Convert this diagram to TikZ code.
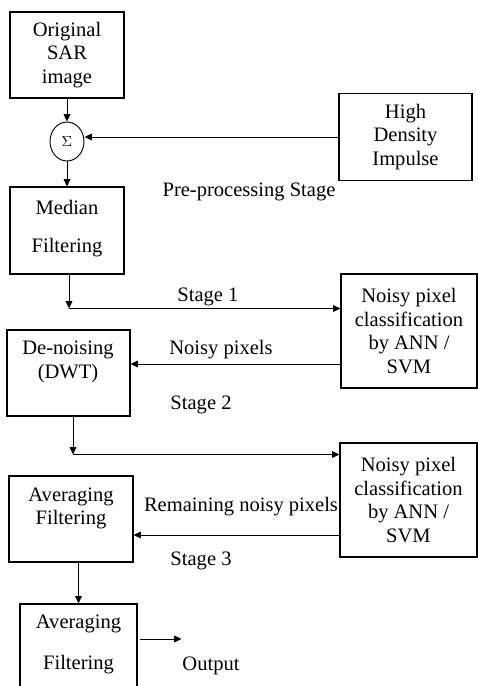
\documentclass[tikz,border=0pt]{standalone}
\usepackage{fontspec}
\setmainfont{Liberation Serif}
\usetikzlibrary{arrows.meta,shapes.geometric,calc}
\begin{document}
\begin{tikzpicture}[x=0.75pt,y=-0.75pt,
  box/.style={draw, line width=0.8pt, inner sep=0pt, align=center,
    font=\fontsize{15.4}{17.6}\selectfont},
  txt/.style={align=center, inner sep=0pt, font=\fontsize{15.4}{17.6}\selectfont},
  arr/.style={line width=0.75pt, -{Triangle[length=5.5pt,width=5pt]}}]
\clip (0,0) rectangle (478,686);
\fill[white] (0,0) rectangle (478,686);
% boxes
\node[box, minimum width=85.5pt, minimum height=64.5pt] (orig) at (67,55) {Original\\SAR\\image};
\node[draw, ellipse, line width=0.7pt, inner sep=0pt, minimum width=25.5pt, minimum height=29.25pt,
  font=\fontsize{11}{12}\selectfont] (sigma) at (67,141.5) {$\Sigma$};
\node[box, minimum width=99.75pt, minimum height=65.25pt] (high) at (405.5,137) {High\\Density\\Impulse};
\node[box, minimum width=85.5pt, minimum height=65.25pt] (median) at (67,230.5) {};
\node[txt] (medianA) at (67,207) {Median};
\node[txt] (medianB) at (67,248) {Filtering};
\node[box, minimum width=102pt, minimum height=85.5pt] (np1) at (409,331) {Noisy pixel\\classification\\by ANN /\\SVM};
\node[box, minimum width=92.25pt, minimum height=64.5pt] (denoise) at (68.5,373) {};
\node[txt] (denoiseT) at (68,362) {De-noising\\(DWT)};
\node[box, minimum width=102.75pt, minimum height=85.5pt] (np2) at (408.5,500) {Noisy pixel\\classification\\by ANN /\\SVM};
\node[box, minimum width=93pt, minimum height=64.5pt] (avg1) at (71,519) {};
\node[txt] (avg1T) at (71,508.5) {Averaging\\Filtering};
\node[box, minimum width=87.75pt, minimum height=72pt] (avg2) at (78.5,652) {};
\node[txt] (avg2A) at (78.5,624) {Averaging};
\node[txt] (avg2B) at (78.5,665) {Filtering};
% labels
\node[txt] (pre) at (249,192) {Pre-processing Stage};
\node[txt] (st1) at (208,297) {Stage 1};
\node[txt] (nzp) at (221,350) {Noisy pixels};
\node[txt] (st2) at (201,405) {Stage 2};
\node[txt] (rem) at (241,507) {Remaining noisy pixels};
\node[txt] (st3) at (201,561) {Stage 3};
\node[txt] (outT) at (211,666) {Output};
% connectors
\draw[arr] (orig.south) -- (sigma.north);
\draw[arr] (high.west) -- (high.west -| sigma.east);
\draw[arr] (sigma.south) -- (median.north);
\coordinate (c1) at ($(median.south)+(2,34)$);
\draw[arr] ($(median.south)+(2,0)$) -- (c1);
\draw[arr] (c1) -- (c1 -| np1.west);
\coordinate (n1) at ($(np1.west)+(0,33)$);
\draw[arr] (n1) -- (n1 -| denoise.east);
\coordinate (c2) at ($(denoise.south)+(4.5,38)$);
\draw[arr] ($(denoise.south)+(4.5,0)$) -- (c2);
\draw[arr] (c2) -- (c2 -| np2.west);
\coordinate (n2) at ($(np2.west)+(0,35)$);
\draw[arr] (n2) -- (n2 -| avg1.east);
\draw[arr] (avg1.south -| avg2.north) -- (avg2.north);
\coordinate (o1) at ($(avg2.east)+(2,-13)$);
\coordinate (out) at ($(o1)+(42,0)$);
\draw[arr] (o1) -- (out);
\end{tikzpicture}
\end{document}
